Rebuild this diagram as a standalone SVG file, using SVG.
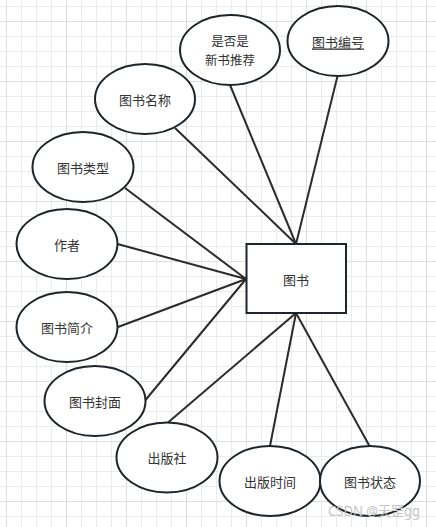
<svg xmlns="http://www.w3.org/2000/svg" width="436" height="527" viewBox="0 0 436 527">
<defs>
<pattern id="minor" width="15" height="15" patternUnits="userSpaceOnUse" x="6" y="6">
<path d="M0.5 0V15M0 0.5H15" stroke="#ebebeb" stroke-width="1" fill="none"/>
</pattern>
<pattern id="major" width="60" height="60" patternUnits="userSpaceOnUse" x="6" y="21">
<path d="M0.5 0V60M0 0.5H60" stroke="#dedede" stroke-width="1" fill="none"/>
</pattern>
</defs>
<style>
.attr ellipse{fill:#ffffff;stroke:#1e2428;stroke-width:2}
.ent rect{fill:#ffffff;stroke:#1e252b;stroke-width:2}
text{font-family:"Noto Sans CJK SC","Noto Sans",sans-serif;font-size:13px;fill:#333333;text-anchor:middle;dominant-baseline:central}
.two{font-size:12.5px}
#connectors line{stroke:#2b2b2b;stroke-width:2}
.wm{font-family:"Noto Sans","Noto Sans CJK SC",sans-serif;font-size:14px;fill:#c4c4c4;text-anchor:start}
</style>
<rect width="436" height="527" fill="#ffffff"/>
<rect width="436" height="527" fill="url(#minor)"/>
<rect width="436" height="527" fill="url(#major)"/>
<g id="connectors">
<line x1="337.5" y1="76" x2="296" y2="244"/>
<line x1="230" y1="85" x2="296" y2="244"/>
<line x1="175" y1="128" x2="296" y2="244"/>
<line x1="125" y1="188" x2="246" y2="279"/>
<line x1="117.5" y1="244" x2="246" y2="279"/>
<line x1="118" y1="327" x2="246" y2="279"/>
<line x1="145.5" y1="400" x2="246" y2="279"/>
<line x1="168" y1="422.5" x2="296" y2="313"/>
<line x1="270" y1="446" x2="296" y2="313"/>
<line x1="369.5" y1="446" x2="296" y2="313"/>
</g>
<g id="book" class="ent">
<rect x="246.5" y="244" width="99.5" height="69"/>
<text x="296" y="279">图书</text>
</g>
<g id="bookId" class="attr">
<ellipse cx="338" cy="41" rx="50.5" ry="35"/>
<text x="338" y="41" text-decoration="underline">图书编号</text>
</g>
<g id="recommend" class="attr">
<ellipse cx="230" cy="50" rx="50" ry="35"/>
<text class="two" x="230" y="40.8">是否是</text>
<text class="two" x="230" y="59.2">新书推荐</text>
</g>
<g id="bookName" class="attr">
<ellipse cx="145" cy="99" rx="50" ry="35"/>
<text x="145" y="99">图书名称</text>
</g>
<g id="bookType" class="attr">
<ellipse cx="83" cy="167" rx="50.5" ry="35"/>
<text x="83" y="167">图书类型</text>
</g>
<g id="author" class="attr">
<ellipse cx="67" cy="244" rx="50.5" ry="35"/>
<text x="67" y="244">作者</text>
</g>
<g id="intro" class="attr">
<ellipse cx="67" cy="327" rx="50.5" ry="35"/>
<text x="67" y="327">图书简介</text>
</g>
<g id="cover" class="attr">
<ellipse cx="95" cy="401" rx="50.5" ry="35"/>
<text x="95" y="401">图书封面</text>
</g>
<g id="publisher" class="attr">
<ellipse cx="167" cy="457.5" rx="50.5" ry="35"/>
<text x="167" y="457.5">出版社</text>
</g>
<g id="pubTime" class="attr">
<ellipse cx="270" cy="481" rx="50.5" ry="35"/>
<text x="270" y="481">出版时间</text>
</g>
<g id="status" class="attr">
<ellipse cx="370" cy="481" rx="50" ry="35"/>
<text x="370" y="481">图书状态</text>
</g>
<text class="wm" x="328" y="510" textLength="92" lengthAdjust="spacingAndGlyphs">CSDN @天罡gg</text>
</svg>
